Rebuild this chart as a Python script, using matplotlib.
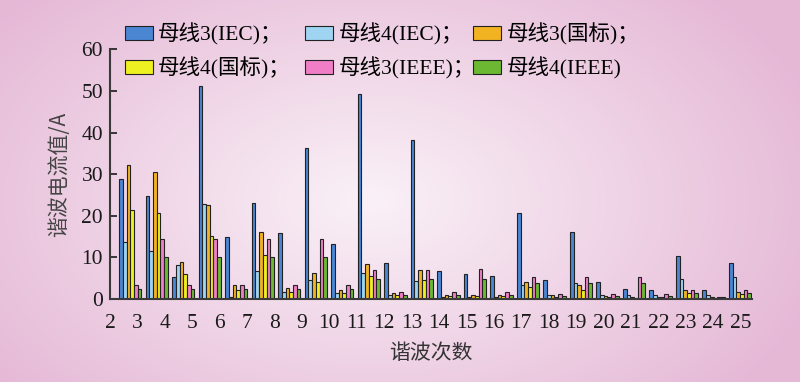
import numpy as np
import matplotlib.pyplot as plt

# Harmonic orders on the x axis
harmonics = [str(h) for h in range(2, 26)]

# Harmonic current values (A), one list per series
bus3_iec = [28.8, 24.7, 5.2, 51.2, 15.0, 23.1, 15.8, 36.4, 13.2, 49.2, 8.6, 38.2,
            6.7, 6.1, 5.6, 20.6, 4.6, 16.2, 4.0, 2.5, 2.3, 10.3, 2.1, 8.6]
bus4_iec = [13.8, 11.5, 8.3, 22.8, 0.6, 6.7, 1.7, 4.6, 1.4, 6.3, 1.0, 4.4,
            0.6, 0.6, 0.6, 3.4, 0.9, 3.8, 1.1, 0.9, 0.9, 4.9, 1.0, 5.2]
bus3_gb = [32.2, 30.6, 9.0, 22.5, 3.5, 16.1, 2.7, 6.2, 2.1, 8.5, 1.4, 7.0,
           1.1, 1.1, 1.0, 4.2, 0.9, 3.5, 0.7, 0.5, 0.5, 2.3, 0.5, 1.8]
bus4_gb = [21.5, 20.6, 6.0, 15.1, 2.3, 10.7, 1.7, 4.1, 1.4, 5.6, 1.0, 4.7,
           0.8, 0.7, 0.7, 2.8, 0.6, 2.3, 0.5, 0.3, 0.4, 1.4, 0.2, 1.2]
bus3_ieee = [3.5, 14.5, 3.5, 14.5, 3.5, 14.5, 3.5, 14.5, 3.5, 7.1, 1.6, 7.1,
             1.6, 7.2, 1.6, 5.2, 1.2, 5.2, 1.2, 5.2, 1.2, 2.1, 0.5, 2.1]
bus4_ieee = [2.4, 10.2, 2.4, 10.2, 2.4, 10.2, 2.4, 10.2, 2.4, 4.9, 1.1, 4.9,
             1.1, 4.9, 1.0, 3.8, 0.7, 3.8, 0.7, 3.8, 0.7, 1.4, 0.4, 1.4]

series = [bus3_iec, bus4_iec, bus3_gb, bus4_gb, bus3_ieee, bus4_ieee]
labels = ['母线3(IEC)；', '母线4(IEC)；', '母线3(国标)；',
          '母线4(国标)；', '母线3(IEEE)；', '母线4(IEEE)']
colors = ['#4a86d2', '#9fd4f2', '#f2b322', '#eef022', '#f07ec6', '#6cb832']

serif = ['Liberation Serif', 'Noto Sans CJK SC', 'DejaVu Sans']
plt.rcParams['font.family'] = serif

fig = plt.figure(figsize=(8, 3.82), dpi=100)

# Soft radial pink background
bg = fig.add_axes([0, 0, 1, 1], zorder=-10)
yy, xx = np.mgrid[0:382, 0:800]
r = np.sqrt(((xx - 370) / 480.0) ** 2 + ((yy - 200) / 300.0) ** 2)
r = np.clip(r, 0, 1)[..., None]
center = np.array([250, 241, 247]) / 255.0
edge = np.array([229, 184, 214]) / 255.0
bg.imshow(center * (1 - r) + edge * r, aspect='auto', extent=[0, 1, 0, 1])
bg.axis('off')

ax = fig.add_axes([0.1375, 0.217, 0.8025, 0.654])
ax.patch.set_alpha(0)

x = np.arange(len(harmonics))
w = 0.14
handles = []
for j, (vals, col, lab) in enumerate(zip(series, colors, labels)):
    b = ax.bar(x + (j - 2.5) * w, vals, width=w, color=col,
               edgecolor='#222222', linewidth=0.8, label=lab)
    handles.append(b)

ax.set_xlim(-0.69, 23.45)
ax.set_ylim(0, 60)
ax.set_yticks(range(0, 61, 10))
ax.set_xticks(-0.763 + 1.034 * x)
ax.set_xticklabels(harmonics)
ax.tick_params(axis='x', length=0, pad=11, labelsize=15.5, colors='#1a1a1a')
ax.tick_params(axis='y', direction='in', length=5, width=1.2, pad=5,
               labelsize=15.5, colors='#1a1a1a')
for s in ['top', 'right']:
    ax.spines[s].set_visible(False)
for s in ['left', 'bottom']:
    ax.spines[s].set_linewidth(1.5)
    ax.spines[s].set_color('#3a3a3a')

ax.set_ylabel('谐波电流值/A', fontsize=15, color='#444444',
              family=['Noto Sans CJK SC', 'DejaVu Sans'], labelpad=8)
ax.set_xlabel('谐波次数', fontsize=15, color='#333333',
              family=['Noto Sans CJK SC', 'DejaVu Sans'], labelpad=6)

# Legend: three columns of two rows, each placed on its own
col_x = [0.145, 0.371, 0.581]
for c, cx in enumerate(col_x):
    leg = fig.legend([handles[c], handles[c + 3]], [labels[c], labels[c + 3]],
                     loc='upper left', bbox_to_anchor=(cx, 0.962),
                     frameon=False, fontsize=15.5, handlelength=1.3,
                     handleheight=0.6, handletextpad=0.25, labelspacing=0.55,
                     borderaxespad=0)

fig.savefig('out.png', dpi=100)
